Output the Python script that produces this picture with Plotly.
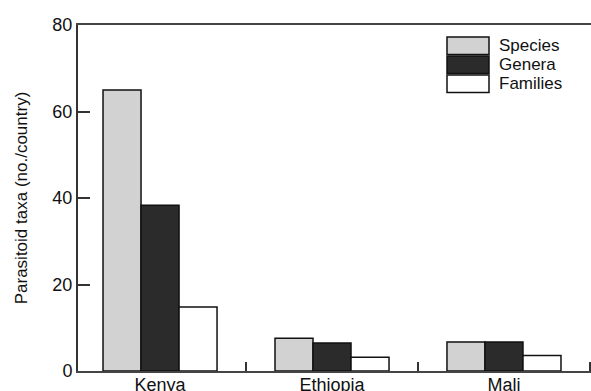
import plotly.graph_objects as go

countries = ["Kenya", "Ethiopia", "Mali"]
species = [65, 7.6, 6.7]
genera = [38.3, 6.5, 6.7]
families = [14.8, 3.2, 3.6]
series_names = ["Species", "Genera", "Families"]
series_colors = ["#d2d2d2", "#2b2b2b", "#ffffff"]
y_ticks = [0, 20, 40, 60, 80]

FONT = "Liberation Sans, Arial, sans-serif"

fig = go.Figure()
for name, vals, col in zip(series_names, [species, genera, families], series_colors):
    fig.add_trace(go.Bar(
        x=countries, y=vals, name=name,
        marker=dict(color=col, line=dict(color="#111111", width=1.5)),
        showlegend=False,
    ))

# plot area in pixels: x 78..591, y 25..371
W, H = 591, 391
L, R, T, B = 78, 0, 25, 20
pw = W - L - R
ph = H - T - B

def px(x):
    return (x - L) / pw

def py(y):
    return (H - B - y) / ph

box_x0, box_x1 = 447, 489
box_tops = [37, 56, 75]
box_h = 17.5
for name, col, top in zip(series_names, series_colors, box_tops):
    fig.add_shape(type="rect", xref="paper", yref="paper",
                  x0=px(box_x0), x1=px(box_x1), y0=py(top + box_h), y1=py(top),
                  fillcolor=col, line=dict(color="#111111", width=1.5), layer="above")
    fig.add_annotation(xref="paper", yref="paper", x=px(497), y=py(top + box_h / 2),
                       text=name, showarrow=False, xanchor="left", yanchor="middle",
                       font=dict(family=FONT, size=17, color="#111111"))

fig.update_layout(
    width=W, height=H,
    margin=dict(l=L, r=R, t=T, b=B),
    paper_bgcolor="white", plot_bgcolor="white",
    barmode="group", bargap=0.337, bargroupgap=0,
    font=dict(family=FONT, size=18, color="#111111"),
    xaxis=dict(
        range=[-0.477, 2.506], showgrid=False, automargin=False,
        showline=True, linecolor="#444444", linewidth=2, mirror=True,
        ticks="inside", tickson="boundaries", ticklen=9, tickwidth=1.5, tickcolor="#333333",
        ticklabelstandoff=-4,
        tickfont=dict(family=FONT, size=18, color="#111111"),
    ),
    yaxis=dict(
        range=[0, 80], tickvals=y_ticks, showgrid=False, zeroline=False, automargin=False,
        showline=True, linecolor="#333333", linewidth=2,
        ticks="inside", ticklen=12, tickwidth=1.5, tickcolor="#333333",
        tickfont=dict(family=FONT, size=18, color="#111111"),
        title=dict(text="Parasitoid taxa (no./country)", standoff=20,
                   font=dict(family=FONT, size=17, color="#111111")),
    ),
)

fig.write_html("out.html", config={"displayModeBar": False},
               post_script="document.body.style.margin='0';document.body.style.overflow='hidden';")
